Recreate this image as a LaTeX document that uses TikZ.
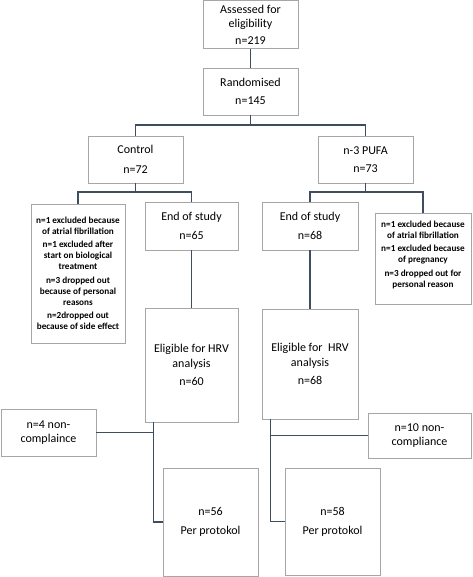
\documentclass[tikz,border=0pt]{standalone}
\usepackage{fontspec}
\setmainfont{Carlito}
\definecolor{linec}{HTML}{3E4D5F}
\definecolor{boxc}{HTML}{A6A6A6}
\begin{document}
\begin{tikzpicture}[x=1pt,y=-1pt,
  box/.style={draw=boxc,line width=0.8pt,fill=white,inner sep=0pt,align=center,
    font=\fontsize{12}{14.5}\selectfont},
  small/.style={box,font=\bfseries\fontsize{9.2}{11}\selectfont},
  conn/.style={draw=linec,line width=1.7pt}]
\useasboundingbox (0,0) rectangle (472,577);
\fill[white] (0,0) rectangle (472,577);

\node[box,minimum width=95pt,minimum height=47.5pt] (assess) at (250.5,24.5) {Assessed for\\eligibility\\[2pt]n=219};
\node[box,minimum width=95pt,minimum height=47pt] (rand) at (250.5,91.5) {Randomised\\[3pt]n=145};
\node[box,minimum width=95pt,minimum height=47pt] (control) at (135.5,159.5) {Control\\[5pt]n=72};
\node[box,minimum width=95pt,minimum height=47pt] (pufa) at (365.5,159.5) {n-3 PUFA\\[4pt]n=73};
\node[small,minimum width=94pt,minimum height=139pt] (exclL) at (78,273.5)
 {n=1 excluded because\\of atrial fibrillation\\[2.5pt]n=1 excluded after\\start on biological\\treatment\\[2.5pt]n=3 dropped out\\because of personal\\reasons\\[2.5pt]n=2dropped out\\because of side effect};
\node[box,minimum width=93pt,minimum height=48pt] (endL) at (191.5,226) {End of study\\[4.5pt]n=65};
\node[box,minimum width=96pt,minimum height=48pt] (endR) at (310,226) {End of study\\[4.5pt]n=68};
\node[small,minimum width=96pt,minimum height=91pt] (exclR) at (423,258.5)
 {n=1 excluded because\\of atrial fibrillation\\[2.5pt]n=1 excluded because\\of pregnancy\\[2.5pt]n=3 dropped out for\\personal reason\\[-2pt]\mbox{}};
\node[box,minimum width=93pt,minimum height=114pt] (eligL) at (191.5,365) {Eligible for HRV\\analysis\\[4pt]n=60};
\node[box,minimum width=96pt,minimum height=110pt] (eligR) at (310,364) {Eligible for\ \ HRV\\analysis\\[4pt]n=68};
\node[box,minimum width=95pt,minimum height=47pt] (ncL) at (48.5,432.5) {n=4 non-\\complaince};
\node[box,minimum width=103pt,minimum height=45pt] (ncR) at (419.5,435.5) {n=10 non-\\compliance};
\node[box,minimum width=95pt,minimum height=108pt] (ppL) at (210.5,522) {n=56\\[4.5pt]Per protokol};
\node[box,minimum width=95pt,minimum height=107pt] (ppR) at (332.5,521.5) {n=58\\[4.5pt]Per protokol};

\coordinate (rj) at (250.5,125);
\coordinate (cl) at (135.5,192);
\coordinate (cr) at (365.5,192);
\coordinate (tl) at ([xshift=9pt]eligL.south west);
\coordinate (tr) at ([xshift=9pt]eligR.south west);

\draw[conn] (assess) -- (rand);
\draw[conn] (rand) -- (rj);
\draw[conn] (control.north) |- (rj) -| (pufa.north);
\draw[conn] (control) -- (cl);
\draw[conn] (exclL.north) |- (cl) -| (endL.north);
\draw[conn] (pufa) -- (cr);
\draw[conn] (endR.north) |- (cr) -| (exclR.north);
\draw[conn] (endL) -- (eligL);
\draw[conn] (endR) -- (eligR);
\draw[conn] (tl) |- (ppL.west);
\draw[conn] (ncL.east) -- (ncL.east -| tl);
\draw[conn] (tr) |- (ppR.west);
\draw[conn] (ncR.west) -- (ncR.west -| tr);
\end{tikzpicture}
\end{document}
